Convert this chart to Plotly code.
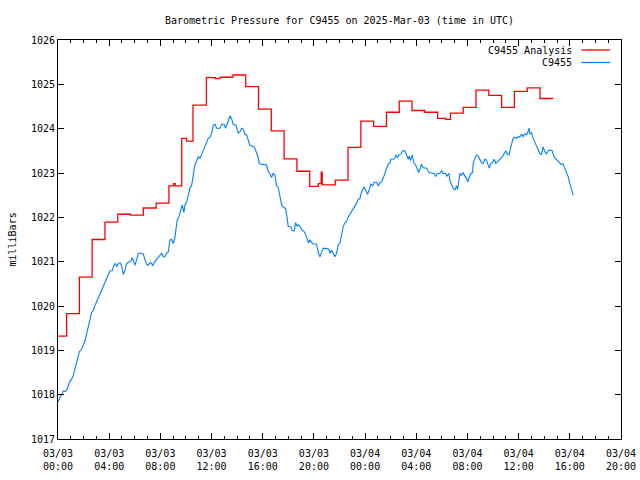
import pandas as pd
import plotly.graph_objects as go

START = "2025-03-03 00:00"
TITLE = "Barometric Pressure for C9455 on 2025-Mar-03 (time in UTC)"
Y_LABEL = "milliBars"
NAME_ANALYSIS = "C9455 Analysis"
NAME_OBS = "C9455"

# Analysis (stepped) series: hours since 2025-03-03 00:00 UTC, value in mb
red_hours = [0.00, 0.67, 1.67, 2.67, 3.67, 4.67, 5.67, 6.67, 7.67, 8.67,
             9.04, 9.16, 9.67, 10.05, 10.55, 11.60, 12.30, 12.67, 13.67, 14.67,
             15.67, 16.67, 17.67, 18.67, 19.67, 20.34, 20.57, 20.65, 21.67, 22.67,
             23.67, 24.67, 25.67, 26.67, 27.67, 28.67, 29.67, 30.30, 30.67, 31.67,
             32.67, 33.67, 34.67, 35.67, 36.67, 37.67, 38.70]
red_values = [1019.32, 1019.83, 1020.65, 1021.50, 1021.89, 1022.07, 1022.05, 1022.21, 1022.32, 1022.71,
              1022.76, 1022.71, 1023.78, 1023.72, 1024.53, 1025.15, 1025.13, 1025.16, 1025.21, 1024.95,
              1024.44, 1023.95, 1023.32, 1023.04, 1022.70, 1022.76, 1023.02, 1022.73, 1022.84, 1023.58,
              1024.17, 1024.05, 1024.37, 1024.62, 1024.41, 1024.37, 1024.23, 1024.21, 1024.35, 1024.48,
              1024.87, 1024.75, 1024.48, 1024.84, 1024.92, 1024.68, 1024.68]

# Observed series
blue_hours = [0.00, 0.16, 0.29, 0.41, 0.55, 0.68, 0.80, 0.91, 1.07, 1.20,
              1.33, 1.46, 1.59, 1.67, 1.85, 1.98, 2.11, 2.24, 2.37, 2.50,
              2.63, 2.76, 2.89, 3.02, 3.15, 3.28, 3.41, 3.54, 3.67, 3.80,
              3.93, 4.06, 4.24, 4.35, 4.48, 4.61, 4.74, 4.87, 4.97, 5.10,
              5.23, 5.37, 5.55, 5.70, 5.80, 5.91, 6.02, 6.15, 6.27, 6.48,
              6.67, 6.80, 6.93, 7.05, 7.19, 7.32, 7.40, 7.52, 7.71, 7.84,
              7.97, 8.10, 8.23, 8.36, 8.49, 8.62, 8.75, 8.88, 9.01, 9.14,
              9.22, 9.32, 9.45, 9.59, 9.71, 9.84, 9.92, 10.05, 10.18, 10.31,
              10.45, 10.57, 10.70, 10.84, 10.96, 11.09, 11.23, 11.35, 11.48, 11.62,
              11.74, 11.88, 12.01, 12.13, 12.27, 12.40, 12.66, 12.79, 12.97, 13.10,
              13.26, 13.44, 13.57, 13.70, 13.91, 14.09, 14.22, 14.35, 14.48, 14.61,
              14.74, 14.87, 15.00, 15.34, 15.47, 15.57, 15.65, 15.73, 15.91, 16.30,
              16.43, 16.56, 16.69, 16.82, 16.95, 17.09, 17.21, 17.34, 17.48, 17.60,
              17.79, 17.91, 17.99, 18.18, 18.31, 18.46, 18.57, 18.70, 18.77, 18.91,
              19.09, 19.24, 19.43, 19.56, 19.69, 19.82, 19.95, 20.21, 20.34, 20.47,
              20.60, 20.73, 20.99, 21.17, 21.25, 21.38, 21.51, 21.64, 21.77, 21.90,
              22.03, 22.16, 22.29, 22.42, 22.55, 22.68, 22.81, 22.95, 23.07, 23.20,
              23.34, 23.46, 23.59, 23.73, 23.85, 23.93, 24.06, 24.19, 24.32, 24.45,
              24.59, 24.71, 24.90, 25.02, 25.16, 25.29, 25.41, 25.55, 25.68, 25.80,
              25.94, 26.02, 26.20, 26.33, 26.41, 26.54, 26.66, 26.80, 26.93, 27.11,
              27.24, 27.37, 27.45, 27.55, 27.68, 27.81, 27.95, 28.07, 28.20, 28.34,
              28.41, 28.54, 28.80, 28.98, 29.20, 29.38, 29.51, 29.63, 29.84, 29.98,
              30.10, 30.29, 30.39, 30.55, 30.63, 30.76, 30.88, 31.02, 31.15, 31.23,
              31.33, 31.41, 31.54, 31.66, 31.80, 31.93, 32.01, 32.13, 32.27, 32.40,
              32.45, 32.58, 32.71, 32.84, 32.97, 33.10, 33.23, 33.36, 33.49, 33.62,
              33.70, 33.83, 33.96, 34.09, 34.22, 34.35, 34.48, 34.61, 34.74, 34.87,
              35.00, 35.13, 35.26, 35.37, 35.49, 35.57, 35.70, 35.84, 35.96, 36.09,
              36.23, 36.35, 36.48, 36.62, 36.70, 36.80, 36.88, 37.01, 37.13, 37.27,
              37.40, 37.52, 37.66, 37.79, 37.91, 38.05, 38.18, 38.30, 38.44, 38.62,
              38.75, 38.88, 39.04, 39.16, 39.30, 39.48, 39.61, 39.74, 39.87, 40.00,
              40.13, 40.26]
blue_values = [1017.84, 1017.92, 1018.01, 1018.08, 1018.07, 1018.10, 1018.20, 1018.29, 1018.35, 1018.44,
               1018.59, 1018.74, 1018.88, 1018.97, 1019.03, 1019.12, 1019.21, 1019.38, 1019.51, 1019.68,
               1019.86, 1019.90, 1020.01, 1020.10, 1020.17, 1020.25, 1020.34, 1020.44, 1020.51, 1020.62,
               1020.71, 1020.79, 1020.80, 1020.91, 1020.96, 1020.89, 1020.97, 1020.97, 1020.91, 1020.71,
               1020.80, 1020.96, 1020.99, 1021.01, 1021.09, 1021.00, 1020.92, 1021.04, 1021.19, 1021.19,
               1021.17, 1021.04, 1020.94, 1020.92, 1020.98, 1020.96, 1020.91, 1020.98, 1021.05, 1021.10,
               1021.15, 1021.19, 1021.11, 1021.11, 1021.19, 1021.22, 1021.49, 1021.50, 1021.41, 1021.54,
               1021.74, 1021.94, 1022.01, 1022.13, 1022.28, 1022.11, 1022.28, 1022.34, 1022.52, 1022.65,
               1022.73, 1022.95, 1023.18, 1023.27, 1023.37, 1023.33, 1023.42, 1023.52, 1023.57, 1023.69,
               1023.78, 1023.81, 1023.90, 1024.08, 1024.10, 1024.01, 1024.01, 1024.10, 1024.10, 1024.01,
               1024.14, 1024.29, 1024.22, 1024.10, 1024.08, 1023.90, 1023.93, 1024.01, 1023.99, 1023.87,
               1023.86, 1023.74, 1023.62, 1023.59, 1023.48, 1023.41, 1023.35, 1023.21, 1023.20, 1023.18,
               1023.03, 1022.99, 1022.90, 1022.99, 1022.95, 1022.71, 1022.68, 1022.47, 1022.28, 1022.23,
               1022.20, 1021.98, 1021.80, 1021.79, 1021.70, 1021.69, 1021.88, 1021.80, 1021.83, 1021.79,
               1021.71, 1021.68, 1021.56, 1021.43, 1021.49, 1021.43, 1021.40, 1021.40, 1021.20, 1021.11,
               1021.19, 1021.30, 1021.30, 1021.28, 1021.19, 1021.26, 1021.19, 1021.11, 1021.19, 1021.38,
               1021.41, 1021.62, 1021.79, 1021.87, 1021.90, 1022.01, 1022.07, 1022.13, 1022.20, 1022.24,
               1022.32, 1022.41, 1022.42, 1022.58, 1022.63, 1022.69, 1022.60, 1022.52, 1022.62, 1022.75,
               1022.71, 1022.79, 1022.79, 1022.71, 1022.78, 1022.80, 1022.88, 1022.99, 1023.11, 1023.20,
               1023.22, 1023.31, 1023.31, 1023.33, 1023.41, 1023.35, 1023.41, 1023.43, 1023.50, 1023.50,
               1023.41, 1023.31, 1023.38, 1023.28, 1023.41, 1023.23, 1023.18, 1023.11, 1023.01, 1023.13,
               1023.20, 1023.12, 1023.11, 1023.01, 1022.99, 1022.99, 1022.92, 1022.99, 1022.99, 1023.05,
               1022.99, 1022.99, 1022.93, 1022.99, 1022.83, 1022.73, 1022.65, 1022.62, 1022.71, 1022.63,
               1022.84, 1022.99, 1022.95, 1023.01, 1022.93, 1022.88, 1022.80, 1022.88, 1022.99, 1023.01,
               1023.22, 1023.33, 1023.41, 1023.38, 1023.31, 1023.23, 1023.22, 1023.31, 1023.29, 1023.18,
               1023.11, 1023.22, 1023.23, 1023.31, 1023.22, 1023.25, 1023.29, 1023.34, 1023.37, 1023.44,
               1023.50, 1023.41, 1023.41, 1023.56, 1023.68, 1023.78, 1023.81, 1023.78, 1023.82, 1023.81,
               1023.88, 1023.82, 1023.88, 1023.86, 1023.90, 1024.01, 1023.88, 1023.91, 1023.78, 1023.68,
               1023.63, 1023.52, 1023.44, 1023.42, 1023.59, 1023.48, 1023.43, 1023.50, 1023.52, 1023.50,
               1023.38, 1023.33, 1023.28, 1023.22, 1023.20, 1023.20, 1023.11, 1023.03, 1022.92, 1022.77,
               1022.63, 1022.50]

X_RANGE = ["2025-03-03 00:00", "2025-03-04 20:00"]
Y_RANGE = [1017, 1026]

t0 = pd.Timestamp(START)
red_x = t0 + pd.to_timedelta(red_hours, unit="h")
blue_x = t0 + pd.to_timedelta(blue_hours, unit="h")

RED = "#ff0000"
BLUE = "#0080ff"
FONT = "DejaVu Sans Mono"

fig = go.Figure()
fig.add_trace(go.Scatter(x=red_x, y=red_values, mode="lines", name=NAME_ANALYSIS,
                         line=dict(color=RED, width=1.3, shape="hv")))
fig.add_trace(go.Scatter(x=blue_x, y=blue_values, mode="lines", name=NAME_OBS,
                         line=dict(color=BLUE, width=1.1)))

fig.update_layout(
    width=640, height=480,
    margin=dict(l=58, r=19, t=40, b=41, autoexpand=False),
    paper_bgcolor="white", plot_bgcolor="white",
    font=dict(family=FONT, size=10, color="black"),
    showlegend=False,
    title=dict(text=TITLE, x=0.5, xref="paper", xanchor="center",
               y=1 - 20 / 480, yref="container", yanchor="middle",
               font=dict(family=FONT, size=10, color="black")),
)

fig.update_xaxes(
    type="date", range=X_RANGE, tick0=X_RANGE[0], dtick=4 * 3600 * 1000,
    tickformat="%m/%d<br>%H:%M", automargin=False, ticklabelstandoff=5,
    showline=True, linecolor="black", linewidth=1, mirror="ticks",
    ticks="inside", ticklen=6, tickcolor="black", tickwidth=1,
    minor=dict(dtick=3600 * 1000, ticks="inside", ticklen=3, tickcolor="black"),
    showgrid=False, zeroline=False,
    tickfont=dict(family=FONT, size=10, color="black"),
)
fig.update_yaxes(
    range=Y_RANGE, dtick=1, tickformat="d", automargin=False,
    showline=True, linecolor="black", linewidth=1, mirror="ticks",
    ticks="inside", ticklen=6, tickcolor="black", tickwidth=1,
    showgrid=False, zeroline=False,
    tickfont=dict(family=FONT, size=10, color="black"),
)

# gnuplot-style key: text right-aligned, line sample to its right
key_entries = [(NAME_ANALYSIS, RED), (NAME_OBS, BLUE)]
for i, (label, color) in enumerate(key_entries):
    yk = 1 - (10 + 12.5 * i) / 399
    fig.add_annotation(text=label, xref="paper", yref="paper", x=0.9165, y=yk,
                       xanchor="right", yanchor="middle", showarrow=False,
                       font=dict(family=FONT, size=10, color="black"))
    fig.add_shape(type="line", xref="paper", yref="paper",
                  x0=0.9295, x1=0.9805, y0=yk, y1=yk,
                  line=dict(color=color, width=1.3))

fig.add_annotation(text=Y_LABEL, xref="paper", yref="paper",
                   x=(12 - 58) / 563, y=0.5, textangle=-90,
                   xanchor="center", yanchor="middle", showarrow=False,
                   font=dict(family=FONT, size=10, color="black"))

fig.write_html("out.html")
